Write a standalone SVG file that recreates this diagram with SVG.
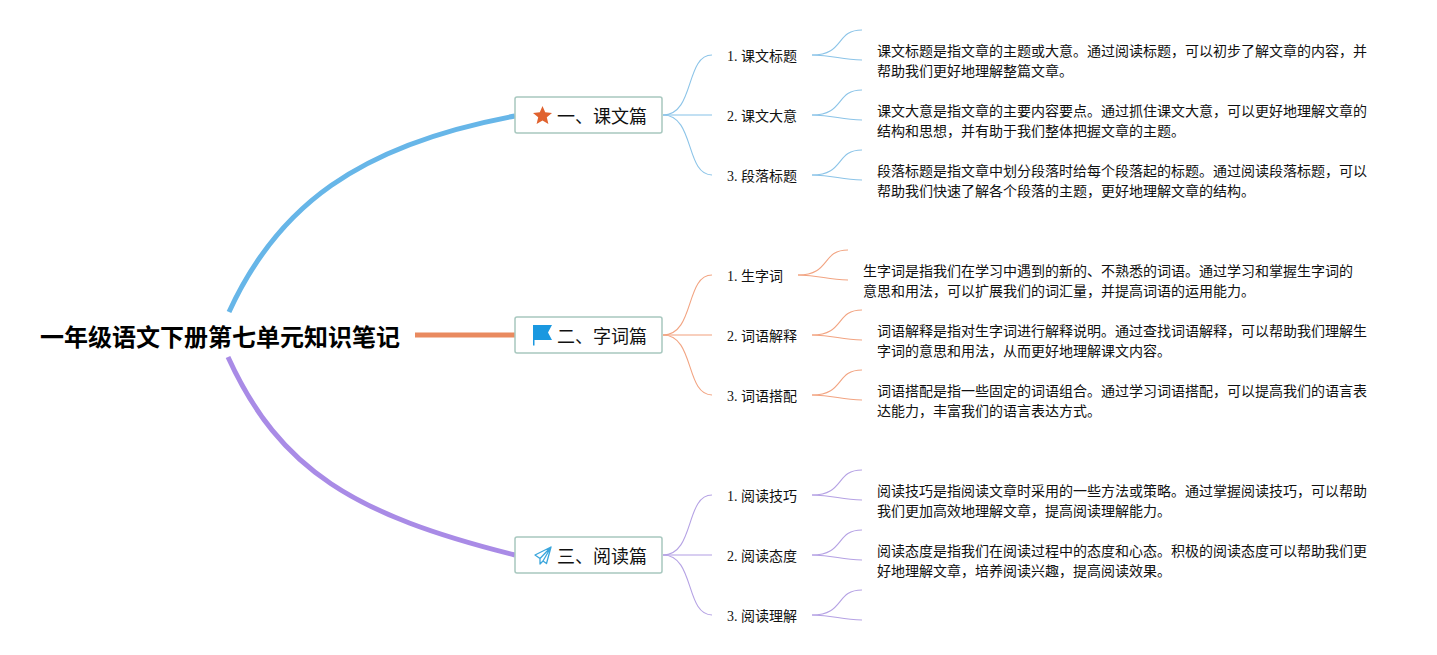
<svg xmlns="http://www.w3.org/2000/svg" width="1437" height="655" viewBox="0 0 1437 655">
<style>
text{font-family:"Liberation Serif","Noto Sans CJK SC",serif;fill:#111}
.root{font-size:24px;font-weight:700;fill:#000;font-family:"Liberation Sans","Noto Sans CJK SC",sans-serif}
.main{font-size:18px;fill:#111}
.sub{font-size:14px}
.body{font-size:14px}
.box{fill:#fff;stroke:#a8c8bf;stroke-width:1.5}
.b{stroke:#8cc4e8}.o{stroke:#f2a482}.p{stroke:#b5a2e4}
.b path,.o path,.p path{fill:none;stroke-width:1.1}
.b .mid,.o .mid,.p .mid{stroke-width:1.6;opacity:.7}
</style>
<rect width="1437" height="655" fill="#fff"/>
<g id="connectors" fill="none">
<path d="M229 312C277 207 358 145 515 116" stroke="#67b6e8" stroke-width="5"/>
<path d="M415 335H515" stroke="#e98a5f" stroke-width="5"/>
<path d="M228 357C280 471 355 515 515 555" stroke="#a98be6" stroke-width="5"/>
<g class="b">
<path d="M663 115C695 115 685 55 712 55"/><path class="mid" d="M663 115H712"/><path d="M663 115C695 115 685 175 712 175"/>
<path d="M812 55C845 55 835 30 862 30"/><path d="M812 55C835 55 840 60 862 60"/>
<path d="M812 115C845 115 835 90 862 90"/><path d="M812 115C835 115 840 120 862 120"/>
<path d="M812 175C845 175 835 150 862 150"/><path d="M812 175C835 175 840 180 862 180"/>
</g>
<g class="o">
<path d="M663 335C695 335 685 275 712 275"/><path class="mid" d="M663 335H712"/><path d="M663 335C695 335 685 395 712 395"/>
<path d="M798 275C831 275 821 250 848 250"/><path d="M798 275C821 275 826 280 848 280"/>
<path d="M812 335C845 335 835 310 862 310"/><path d="M812 335C835 335 840 340 862 340"/>
<path d="M812 395C845 395 835 370 862 370"/><path d="M812 395C835 395 840 400 862 400"/>
</g>
<g class="p">
<path d="M663 555C695 555 685 495 712 495"/><path class="mid" d="M663 555H712"/><path d="M663 555C695 555 685 615 712 615"/>
<path d="M812 495C845 495 835 470 862 470"/><path d="M812 495C835 495 840 500 862 500"/>
<path d="M812 555C845 555 835 530 862 530"/><path d="M812 555C835 555 840 560 862 560"/>
<path d="M812 615C845 615 835 590 862 590"/><path d="M812 615C835 615 840 620 862 620"/>
</g>
</g>
<g id="root"><text class="root" x="40" y="346">一年级语文下册第七单元知识笔记</text></g>
<g id="topic1"><rect class="box" x="515" y="97" width="147" height="36" rx="2"/>
<polygon points="542.500,106 545.200,112.300 552,112.900 546.800,117.300 548.400,124 542.500,120.500 536.600,124 538.200,117.300 533,112.900 539.800,112.300" fill="#e0622f"/>
<text class="main" x="557" y="123">一、课文篇</text></g>
<g id="topic2"><rect class="box" x="515" y="317" width="147" height="36" rx="2"/>
<path d="M533 325H552L548 332.500 552 340H534.500V345.500H533Z" fill="#1a98e0"/>
<text class="main" x="557" y="343">二、字词篇</text></g>
<g id="topic3"><rect class="box" x="515" y="537" width="147" height="36" rx="2"/>
<path d="M551 547L535 555 540 558.500 551 547 543 561 546.500 563.500ZM540 558.500V564L543 561" fill="none" stroke="#3ba6dc" stroke-width="1.300" stroke-linejoin="round"/>
<text class="main" x="557" y="563">三、阅读篇</text></g>
<g id="n1-1"><text class="sub" x="727" y="61">1. 课文标题</text></g>
<g id="n1-2"><text class="sub" x="727" y="121">2. 课文大意</text></g>
<g id="n1-3"><text class="sub" x="727" y="181">3. 段落标题</text></g>
<g id="n2-1"><text class="sub" x="727" y="281">1. 生字词</text></g>
<g id="n2-2"><text class="sub" x="727" y="341">2. 词语解释</text></g>
<g id="n2-3"><text class="sub" x="727" y="401">3. 词语搭配</text></g>
<g id="n3-1"><text class="sub" x="727" y="501">1. 阅读技巧</text></g>
<g id="n3-2"><text class="sub" x="727" y="561">2. 阅读态度</text></g>
<g id="n3-3"><text class="sub" x="727" y="621">3. 阅读理解</text></g>
<g id="d1-1"><text class="body" x="877" y="56">课文标题是指文章的主题或大意。通过阅读标题，可以初步了解文章的内容，并</text><text class="body" x="877" y="76">帮助我们更好地理解整篇文章。</text></g>
<g id="d1-2"><text class="body" x="877" y="116">课文大意是指文章的主要内容要点。通过抓住课文大意，可以更好地理解文章的</text><text class="body" x="877" y="136">结构和思想，并有助于我们整体把握文章的主题。</text></g>
<g id="d1-3"><text class="body" x="877" y="176">段落标题是指文章中划分段落时给每个段落起的标题。通过阅读段落标题，可以</text><text class="body" x="877" y="196">帮助我们快速了解各个段落的主题，更好地理解文章的结构。</text></g>
<g id="d2-1"><text class="body" x="863" y="276">生字词是指我们在学习中遇到的新的、不熟悉的词语。通过学习和掌握生字词的</text><text class="body" x="863" y="296">意思和用法，可以扩展我们的词汇量，并提高词语的运用能力。</text></g>
<g id="d2-2"><text class="body" x="877" y="336">词语解释是指对生字词进行解释说明。通过查找词语解释，可以帮助我们理解生</text><text class="body" x="877" y="356">字词的意思和用法，从而更好地理解课文内容。</text></g>
<g id="d2-3"><text class="body" x="877" y="396">词语搭配是指一些固定的词语组合。通过学习词语搭配，可以提高我们的语言表</text><text class="body" x="877" y="416">达能力，丰富我们的语言表达方式。</text></g>
<g id="d3-1"><text class="body" x="877" y="496">阅读技巧是指阅读文章时采用的一些方法或策略。通过掌握阅读技巧，可以帮助</text><text class="body" x="877" y="516">我们更加高效地理解文章，提高阅读理解能力。</text></g>
<g id="d3-2"><text class="body" x="877" y="556">阅读态度是指我们在阅读过程中的态度和心态。积极的阅读态度可以帮助我们更</text><text class="body" x="877" y="576">好地理解文章，培养阅读兴趣，提高阅读效果。</text></g>
</svg>
